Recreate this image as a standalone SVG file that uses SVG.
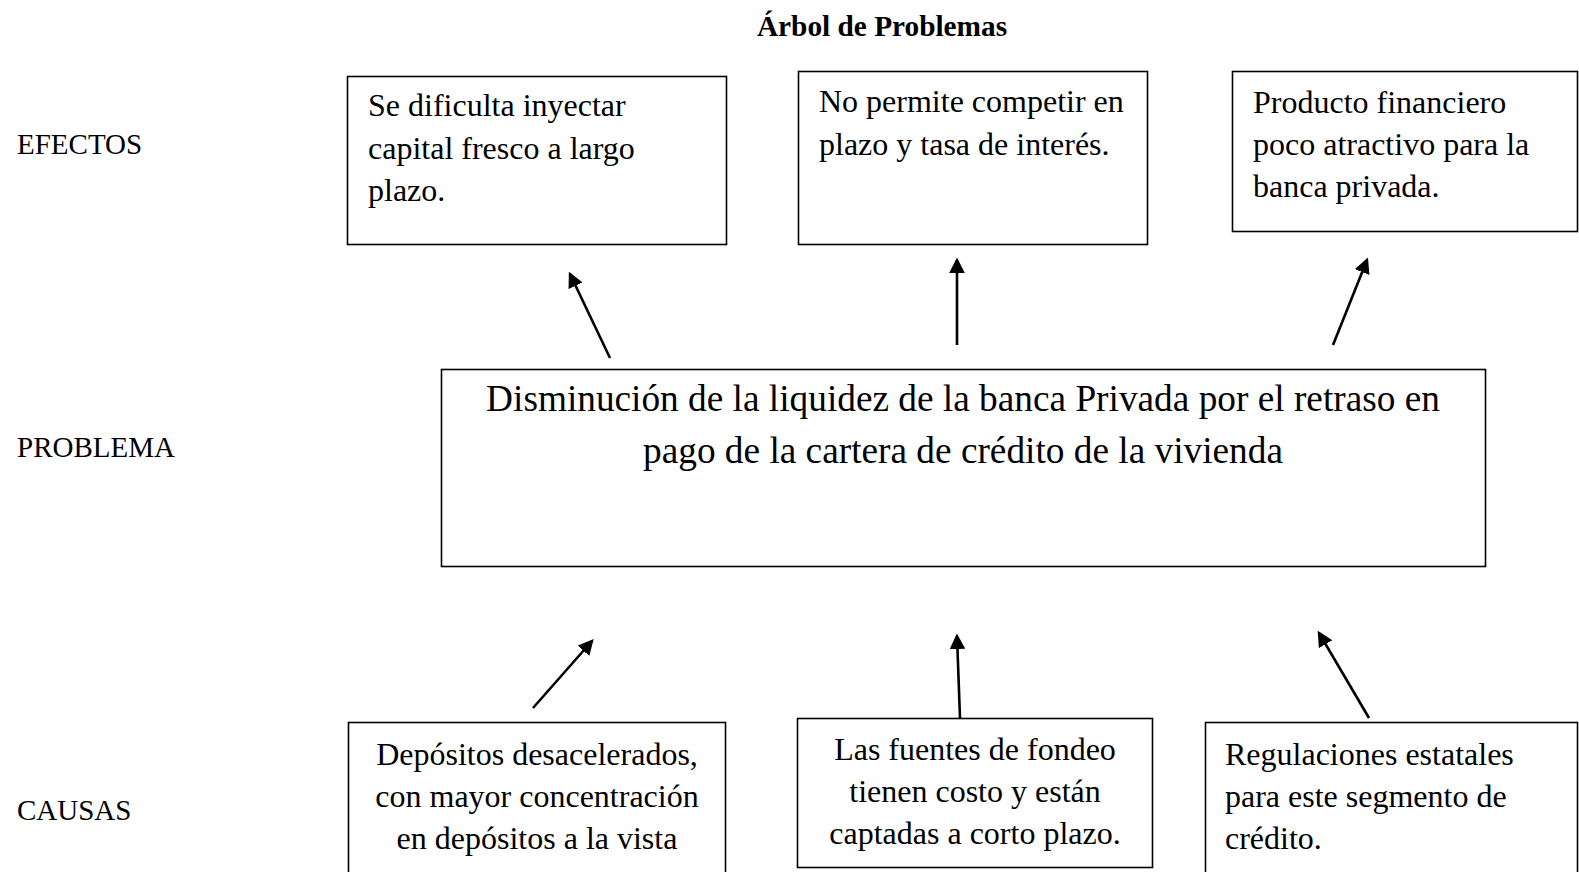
<svg xmlns="http://www.w3.org/2000/svg" width="1579" height="872" viewBox="0 0 1579 872">
<style>
  .box { fill: #fff; stroke: #000; stroke-width: 1.6; }
  .t { font-family: "Liberation Serif", "Times New Roman", serif; fill: #000; }
  .s28 { font-size: 32px; }
  .lab { font-size: 29px; }
  .big { font-size: 37.3px; }
  .title { font-size: 29.3px; font-weight: bold; }
  .arr { stroke: #000; stroke-width: 2.6; fill: none; marker-end: url(#ah); }
</style>
<defs>
  <marker id="ah" markerWidth="6" markerHeight="6" refX="5" refY="3" orient="auto" markerUnits="strokeWidth" viewBox="0 0 6 6">
    <path d="M0,0 L6,3 L0,6 Z" fill="#000"/>
  </marker>
</defs>
<rect width="1579" height="872" fill="#fff"/>

<g id="title"><text class="t title" x="882" y="36" text-anchor="middle">Árbol de Problemas</text></g>

<g id="labels">
  <text class="t lab" x="17" y="154">EFECTOS</text>
  <text class="t lab" x="17" y="457">PROBLEMA</text>
  <text class="t lab" x="17" y="820">CAUSAS</text>
</g>

<g id="efecto1">
  <rect class="box" x="347.5" y="76.5" width="379" height="168"/>
  <text class="t s28" x="368" y="116">Se dificulta inyectar</text>
  <text class="t s28" x="368" y="159">capital fresco a largo</text>
  <text class="t s28" x="368" y="201">plazo.</text>
</g>

<g id="efecto2">
  <rect class="box" x="798.5" y="71.5" width="349" height="173"/>
  <text class="t s28" x="819" y="112">No permite competir en</text>
  <text class="t s28" x="819" y="155">plazo y tasa de interés.</text>
</g>

<g id="efecto3">
  <rect class="box" x="1232.5" y="71.5" width="345" height="160"/>
  <text class="t s28" x="1253" y="113">Producto financiero</text>
  <text class="t s28" x="1253" y="155">poco atractivo para la</text>
  <text class="t s28" x="1253" y="197">banca privada.</text>
</g>

<g id="problema">
  <rect class="box" x="441.5" y="369.5" width="1044" height="197"/>
  <text class="t big" x="963" y="411" text-anchor="middle">Disminución de la liquidez de la banca Privada por el retraso en</text>
  <text class="t big" x="963" y="463" text-anchor="middle">pago de la cartera de crédito de la vivienda</text>
</g>

<g id="causa1">
  <rect class="box" x="348.5" y="722.5" width="377" height="160"/>
  <text class="t s28" x="537" y="765" text-anchor="middle">Depósitos desacelerados,</text>
  <text class="t s28" x="537" y="807" text-anchor="middle">con mayor concentración</text>
  <text class="t s28" x="537" y="849" text-anchor="middle">en depósitos a la vista</text>
</g>

<g id="causa2">
  <rect class="box" x="797.5" y="718.5" width="355" height="149"/>
  <text class="t s28" x="975" y="760" text-anchor="middle">Las fuentes de fondeo</text>
  <text class="t s28" x="975" y="802" text-anchor="middle">tienen costo y están</text>
  <text class="t s28" x="975" y="844" text-anchor="middle">captadas a corto plazo.</text>
</g>

<g id="causa3">
  <rect class="box" x="1205.5" y="722.5" width="372" height="160"/>
  <text class="t s28" x="1225" y="765">Regulaciones estatales</text>
  <text class="t s28" x="1225" y="807">para este segmento de</text>
  <text class="t s28" x="1225" y="849">crédito.</text>
</g>

<g id="connectors">
  <line class="arr" x1="610" y1="358" x2="570" y2="274"/>
  <line class="arr" x1="957" y1="345" x2="957" y2="260"/>
  <line class="arr" x1="1333" y1="345" x2="1367" y2="260"/>
  <line class="arr" x1="533" y1="708" x2="592" y2="641"/>
  <line class="arr" x1="960" y1="718" x2="957" y2="636"/>
  <line class="arr" x1="1369" y1="718" x2="1319" y2="633"/>
</g>
</svg>
